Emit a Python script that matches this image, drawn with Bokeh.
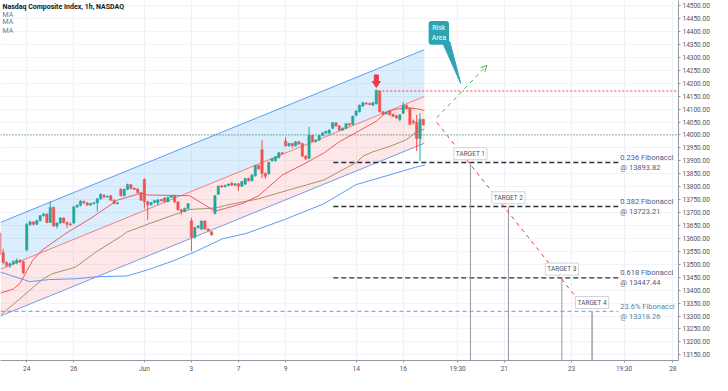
import numpy as np
from bokeh.plotting import figure
from bokeh.models import ColumnDataSource, FixedTicker, NumeralTickFormatter, Label, Arrow, OpenHead
from bokeh.core.properties import value
from bokeh.embed import file_html
from bokeh.resources import INLINE

# ---------------- data (hourly bars, index 0 = 24 May 09:30) ----------------
first_bar = -8
opens = [13620, 13545, 13507, 13495, 13502, 13505, 13515, 13510,
         13556, 13654, 13664, 13655, 13669, 13688, 13694, 13662, 13720, 13648, 13660, 13679, 13661, 13655,
         13660, 13722, 13728, 13744, 13737, 13729, 13735, 13738, 13753, 13766, 13760, 13765, 13748, 13735,
         13790, 13765, 13790, 13808, 13793, 13791, 13777,
         13828, 13742, 13730, 13739, 13738, 13749, 13756, 13742, 13759, 13766, 13741, 13711, 13705, 13716,
         13668, 13605, 13642, 13636, 13667, 13636, 13626,
         13697, 13771, 13802, 13800, 13805, 13814, 13806,
         13811, 13802, 13810, 13832, 13823, 13842, 13882,
         13943, 13851, 13851, 13900, 13900, 13912, 13931,
         13977, 13958, 13967, 13958, 13974, 13967, 13918,
         13910, 13998, 13975, 13980, 13998, 14008, 14007,
         14026, 14047, 14035, 14019, 14026, 14043, 14041,
         14076, 14090, 14112, 14122, 14121, 14115, 14121,
         14170, 14090, 14082, 14093, 14080, 14074, 14060,
         14084, 14115, 14104, 14052, 14050, 13986, 14060]
highs = [13628, 13560, 13512, 13506, 13515, 13522, 13520, 13514,
         13660, 13668, 13667, 13672, 13690, 13698, 13697, 13744, 13724, 13662, 13682, 13682, 13666, 13662,
         13725, 13732, 13748, 13746, 13741, 13738, 13740, 13756, 13774, 13772, 13766, 13768, 13751, 13741,
         13794, 13792, 13812, 13811, 13796, 13794, 13780,
         13832, 13746, 13741, 13749, 13752, 13752, 13760, 13761, 13768, 13769, 13744, 13715, 13719, 13737,
         13680, 13644, 13652, 13670, 13670, 13639, 13629,
         13768, 13805, 13806, 13808, 13812, 13817, 13814,
         13814, 13822, 13834, 13835, 13848, 13885, 13886,
         13980, 13856, 13897, 13911, 13918, 13933, 13935,
         13992, 13970, 13970, 13977, 13977, 13970, 13921,
         14031, 14001, 13984, 14001, 14011, 14017, 14022,
         14050, 14050, 14038, 14029, 14046, 14046, 14075,
         14096, 14118, 14128, 14126, 14124, 14128, 14176,
         14172, 14093, 14090, 14096, 14083, 14077, 14081,
         14127, 14118, 14106, 14060, 14078, 14085, 14063]
lows = [13535, 13500, 13490, 13486, 13496, 13500, 13505, 13462,
        13550, 13648, 13650, 13652, 13665, 13684, 13658, 13660, 13645, 13638, 13656, 13658, 13640, 13648,
        13656, 13718, 13724, 13734, 13726, 13727, 13731, 13704, 13750, 13756, 13757, 13745, 13732, 13731,
        13762, 13762, 13787, 13790, 13788, 13775, 13745,
        13715, 13672, 13726, 13735, 13728, 13744, 13740, 13739, 13756, 13738, 13708, 13690, 13701, 13713,
        13550, 13600, 13638, 13632, 13633, 13627, 13610,
        13692, 13768, 13797, 13797, 13802, 13803, 13803,
        13783, 13800, 13806, 13820, 13820, 13839, 13866,
        13833, 13830, 13846, 13896, 13897, 13909, 13925,
        13955, 13955, 13949, 13955, 13962, 13915, 13903,
        13906, 13972, 13970, 13977, 13995, 14004, 14004,
        14022, 14032, 14016, 14016, 14023, 14036, 14038,
        14073, 14087, 14109, 14117, 14115, 14112, 14118,
        14086, 14077, 14078, 14075, 14069, 14063, 14053,
        14081, 14097, 14038, 14040, 13938, 13901, 14036]
closes = [13540, 13507, 13495, 13502, 13511, 13515, 13510, 13467,
          13654, 13664, 13655, 13669, 13688, 13694, 13662, 13720, 13648, 13660, 13679, 13661, 13655, 13652,
          13722, 13728, 13744, 13737, 13729, 13735, 13738, 13753, 13771, 13760, 13763, 13748, 13735, 13738,
          13765, 13790, 13808, 13793, 13791, 13777, 13748,
          13742, 13730, 13739, 13746, 13749, 13747, 13742, 13759, 13766, 13741, 13711, 13705, 13716, 13734,
          13605, 13642, 13648, 13667, 13636, 13630, 13614,
          13765, 13802, 13800, 13805, 13810, 13806, 13811,
          13802, 13820, 13832, 13823, 13845, 13882, 13869,
          13851, 13840, 13894, 13909, 13916, 13931, 13928,
          13958, 13967, 13958, 13974, 13965, 13918, 13908,
          13998, 13975, 13980, 13998, 14008, 14014, 14019,
          14047, 14035, 14019, 14026, 14043, 14039, 14072,
          14093, 14115, 14125, 14121, 14119, 14125, 14172,
          14090, 14080, 14087, 14078, 14072, 14066, 14078,
          14115, 14104, 14041, 14050, 13986, 14060, 14039.68]

# moving averages (bar position, value)
ma_fast_x = [-7.8, -4, -2, -0.6, 1.7, 4.6, 11.7, 19.3, 27, 34, 36, 48.5, 56, 59, 64, 69, 76, 82.5, 88.5, 93, 99, 104, 107, 110, 113.7, 117.5, 118.3]
ma_fast_y = [13389, 13404, 13426, 13459, 13514, 13555, 13620, 13680, 13748, 13775, 13768, 13765, 13705, 13716, 13734, 13765, 13845, 13888, 13931, 13974, 14017, 14053, 14088, 14100, 14105, 14098, 14093]
ma_mid_x = [-7.8, -2, 4.6, 7.5, 14.5, 21, 27.8, 29.8, 33, 36, 44.6, 48.5, 56.3, 59.2, 65, 68.9, 78.7, 88.4, 98.1, 100, 103, 107.8, 112.7, 116, 118.3]
ma_mid_y = [13304, 13367, 13441, 13463, 13489, 13551, 13606, 13625, 13640, 13655, 13695, 13712, 13718, 13728, 13743, 13753, 13790, 13826, 13894, 13918, 13935, 13955, 13980, 14012, 14023]
ma_slow_x = [-7.8, 0.9, 6.7, 14.5, 21, 29.8, 35.9, 43.75, 50.5, 58.3, 65, 76.7, 88.4, 98, 107.8, 115.6, 118.5]
ma_slow_y = [13470, 13433, 13441, 13444, 13452, 13455, 13478, 13514, 13551, 13599, 13618, 13673, 13734, 13808, 13845, 13875, 13884]

# regression channel
channel_x = [-7.8, 118.3]
channel_mid = [13481, 14149]
channel_half = 181

# levels
peak_level = 14170.00
support_level = 14000.00
last_price = 14039.68
fib_ratios = ["0.236", "0.382", "0.618"]
fib_levels = [13893.82, 13723.21, 13447.44]
ext_ratio = "23.6%"
ext_level = 13318.26

# projected path and targets
target_names = ["TARGET 1", "TARGET 2", "TARGET 3", "TARGET 4"]
target_levels = [13893.82, 13723.21, 13447.44, 13318.26]
target_bars = [132, 143.3, 159.2, 168.2]
proj_down_x = [122, 165.8]
proj_down_y = [14048.5, 13334]
proj_up_x = [122, 136.9]
proj_up_y = [14067, 14269]

tick_pos = [0, 14, 35, 49, 63, 77, 98, 112, 128.2, 142.1, 162.1, 177.7, 192.2]
tick_labels = ["24", "26", "Jun", "3", "7", "9", "14", "16", "19:30", "21", "23", "19:30", "28"]
price_ticks = list(range(13150, 14501, 50))

# ---------------- figure ----------------
X0, X1 = -7.8, 193.9
Y0, Y1 = 13128, 14520
UP, DOWN = "#26a69a", "#ef5350"
FONT = "Roboto"

p = figure(width=712, height=375, x_range=(X0, X1), y_range=(Y0, Y1),
           output_backend="svg", toolbar_location=None, y_axis_location="right",
           min_border_left=0, min_border_top=0, min_border_right=0, min_border_bottom=0)
p.outline_line_color = None
p.background_fill_color = "white"

p.xaxis.ticker = FixedTicker(ticks=tick_pos)
p.xaxis.major_label_overrides = {t: l for t, l in zip(tick_pos, tick_labels)}
p.yaxis.ticker = FixedTicker(ticks=price_ticks)
p.yaxis.formatter = NumeralTickFormatter(format="0.00")
for ax in (p.xaxis[0], p.yaxis[0]):
    ax.major_label_text_font_size = "6.5px"
    ax.major_label_text_color = "#50535e"
    ax.major_label_text_font = FONT
    ax.axis_line_color = "#9598a1"
    ax.major_tick_line_color = "#9598a1"
    ax.major_tick_out = 2
    ax.major_tick_in = 0
    ax.minor_tick_line_color = None
    ax.major_label_standoff = 2
p.xgrid.grid_line_color = "#eef1f7"
p.ygrid.grid_line_color = "#f2f4f9"

# channel
cx = np.array(channel_x)
cm = np.array(channel_mid)
p.varea(x=cx, y1=cm, y2=cm + channel_half, fill_color="#2196f3", fill_alpha=0.16)
p.varea(x=cx, y1=cm - channel_half, y2=cm, fill_color="#f23645", fill_alpha=0.12)
p.line(cx, cm + channel_half, line_color="#5b9cf6", line_width=1)
p.line(cx, cm, line_color="#f77c80", line_width=1)
p.line(cx, cm - channel_half, line_color="#7b9be0", line_width=1)

# levels
p.line([X0, X1], [support_level] * 2, line_color="#2e7d32", line_dash="1 2", line_width=1)
p.line([104.6, X1], [peak_level] * 2, line_color="#f23645", line_dash="2 2", line_width=1)
p.line([X0, 176], [ext_level] * 2, line_color="#5b9cf6", line_dash="4 3", line_width=1)
for lv in fib_levels:
    p.line([91.2, 176], [lv, lv], line_color="#2a2e39", line_dash="5 3", line_width=1.4)

# target verticals
for i, (tb, tl) in enumerate(zip(target_bars, target_levels)):
    last = i == len(target_bars) - 1
    p.line([tb, tb], [Y0, tl], line_color="#b2b5be" if last else "#9598a1", line_width=2 if last else 1)

# MAs
p.line(ma_slow_x, ma_slow_y, line_color="#5b9cf6", line_width=1)
p.line(ma_mid_x, ma_mid_y, line_color="#a39563", line_width=1)
p.line(ma_fast_x, ma_fast_y, line_color="#f0585f", line_width=1)

# candles
o = np.array(opens, dtype=float)
c = np.array(closes, dtype=float)
bars = np.arange(first_bar, first_bar + len(opens))
top = np.maximum(o, c)
bot = np.minimum(o, c)
thin = (top - bot) < 3
top = np.where(thin, top + 1.5, top)
bot = np.where(thin, bot - 1.5, bot)
col = np.where(c >= o, UP, DOWN)
src = ColumnDataSource(dict(x=bars, top=top, bot=bot, high=highs, low=lows, color=col))
p.segment(x0="x", y0="high", x1="x", y1="low", line_color="color", line_width=1, source=src)
p.vbar(x="x", top="top", bottom="bot", width=0.7, fill_color="color", line_color="color", line_width=0.5, source=src)

# projections
p.line(proj_down_x, proj_down_y, line_color="#f23645", line_dash="4 4", line_width=1)
p.add_layout(Arrow(end=OpenHead(size=6, line_color="#4caf50", line_width=1),
                   x_start=proj_up_x[0], y_start=proj_up_y[0], x_end=proj_up_x[1], y_end=proj_up_y[1],
                   line_color="#4caf50", line_dash="4 4", line_width=1))

# red arrow at the peak
p.patch([103.4, 104.6, 104.6, 105.2, 104.0, 102.8, 103.4],
        [14232, 14232, 14207, 14207, 14184, 14207, 14207], fill_color="#f23645", line_color="#f23645")

# Risk Area callout
p.patch([123.6, 125.9, 129.1], [14360, 14360, 14200], fill_color="#2ea4b3", line_color="#2ea4b3")
p.add_layout(Label(x=122.6, y=14395, text="Risk\nArea", text_align="center", text_baseline="middle",
                   text_color="white", text_font_size="7px", text_font=FONT,
                   background_fill_color="#2ea4b3", border_radius=3, padding=3))

# fib texts
fib_text = [f"{r} Fibonacci\n@ {lv:.2f}" for r, lv in zip(fib_ratios, fib_levels)]
p.text(x=[176.6] * 3, y=fib_levels, text=fib_text, text_font=value(FONT), text_font_size="7.5px",
       text_color="#50607a", text_baseline="middle", text_align="left", text_line_height=1.1)
p.text(x=[176.6], y=[ext_level], text=[f"{ext_ratio} Fibonacci\n@ {ext_level:.2f}"], text_font=value(FONT),
       text_font_size="7.5px", text_color="#5a7fa8", text_baseline="middle", text_align="left", text_line_height=1.1)

# target labels
for name, tb, tl in zip(target_names, target_bars, target_levels):
    p.add_layout(Label(x=tb, y=tl + 34, text=name, text_align="center", text_baseline="middle",
                       text_font_size="6.5px", text_color="#50535e", text_font=FONT,
                       background_fill_color="white", border_line_color="#d1d4dc", padding=2))

# legend texts
p.add_layout(Label(x=-7.2, y=14494, text="Nasdaq Composite Index, 1h, NASDAQ", text_baseline="middle",
                   text_font_size="7px", text_font_style="bold", text_color="#131722", text_font=FONT))
for yy in (14465, 14435, 14403):
    p.add_layout(Label(x=-7.2, y=yy, text="MA", text_baseline="middle", text_font_size="7px",
                       text_color="#787b86", text_font=FONT))

# price tags on axis
for lv, bg in ((peak_level, "#f23645"), (last_price, "#ef5350"), (support_level, "#2e6b30")):
    p.add_layout(Label(x=X1, y=lv, x_offset=1, text=f"{lv:.2f}", text_baseline="middle", text_align="left",
                       text_font_size="6.5px", text_color="white", text_font=FONT,
                       background_fill_color=bg, padding=2))
p.add_layout(Label(x=X1, y=14505, x_offset=9, text="USD", text_baseline="middle", text_align="left",
                   text_font_size="6px", text_color="#50535e", text_font=FONT,
                   background_fill_color="white", border_line_color="#d1d4dc", padding=1))

open("out.html", "w").write(file_html(p, INLINE))
